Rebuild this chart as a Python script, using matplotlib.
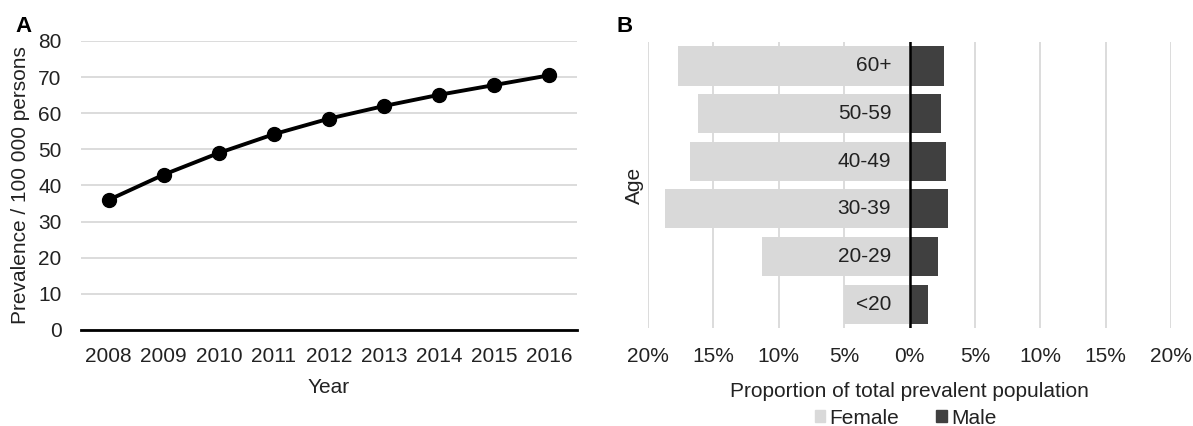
import matplotlib.pyplot as plt
from matplotlib.patches import Patch

plt.rcParams['font.family'] = ['Liberation Sans', 'DejaVu Sans']

# panel A data
years = [2008, 2009, 2010, 2011, 2012, 2013, 2014, 2015, 2016]
prevalence = [36.0, 43.0, 49.0, 54.2, 58.5, 62.0, 65.1, 67.8, 70.5]

# panel B data (percent of total prevalent population)
ages = ['<20', '20-29', '30-39', '40-49', '50-59', '60+']
female = [5.0, 11.3, 18.7, 16.8, 16.2, 17.7]
male = [1.4, 2.2, 2.95, 2.8, 2.4, 2.6]

grid_col = '#d9d9d9'
fem_col = '#d9d9d9'
male_col = '#404040'
txt_col = '#222222'
fs = 15

fig = plt.figure(figsize=(11.93, 4.26), dpi=100)

# ---- A ----
axA = fig.add_axes([0.068, 0.2254, 0.4155, 0.6784])
axA.plot(years, prevalence, color='black', lw=2.8, marker='o', ms=10, zorder=3)
axA.set_xlim(2007.5, 2016.5)
axA.set_ylim(0, 80)
axA.set_yticks(range(0, 81, 10))
axA.set_xticks(years)
axA.grid(axis='y', color=grid_col, lw=1.3)
axA.set_axisbelow(True)
for s in ['top', 'right', 'left']:
    axA.spines[s].set_visible(False)
axA.spines['bottom'].set_linewidth(2)
axA.tick_params(length=0, labelsize=fs, colors=txt_col, pad=12)
axA.tick_params(axis='y', pad=14)
axA.set_xlabel('Year', fontsize=fs, color=txt_col, labelpad=9)
axA.set_ylabel('Prevalence / 100 000 persons', fontsize=fs, color=txt_col, labelpad=6)
fig.text(0.0126, 0.925, 'A', fontsize=16, fontweight='bold')

# ---- B ----
axB = fig.add_axes([0.5432, 0.23, 0.4384, 0.671])
pos = range(len(ages))
axB.barh(pos, [-v for v in female], height=0.82, color=fem_col, zorder=2)
axB.barh(pos, male, height=0.82, color=male_col, zorder=2)
axB.axvline(0, color='black', lw=1.8, zorder=3)
axB.set_xlim(-20, 20)
axB.set_ylim(-0.5, len(ages) - 0.5)
axB.set_xticks(range(-20, 21, 5))
axB.set_xticklabels([f'{abs(t)}%' for t in range(-20, 21, 5)])
axB.set_yticks([])
axB.grid(axis='x', color=grid_col, lw=1.3)
axB.set_axisbelow(True)
for s in axB.spines.values():
    s.set_visible(False)
axB.tick_params(length=0, labelsize=fs, colors=txt_col, pad=14)
for i, a in enumerate(ages):
    axB.text(-1.4, i, a, ha='right', va='center', fontsize=fs, color=txt_col, zorder=4)
axB.set_xlabel('Proportion of total prevalent population', fontsize=fs, color=txt_col, labelpad=11)
axB.set_ylabel('Age', fontsize=fs, color=txt_col, labelpad=3)
fig.text(0.517, 0.925, 'B', fontsize=16, fontweight='bold')

handles = [Patch(color=fem_col, label='Female'), Patch(color=male_col, label='Male')]
fig.legend(handles=handles, loc='center', bbox_to_anchor=(0.759, 0.018), ncol=2,
           frameon=False, fontsize=fs, handlelength=0.5, handleheight=0.5,
           handletextpad=0.2, columnspacing=1.8, labelcolor=txt_col,
           borderpad=0, borderaxespad=0)

fig.savefig('out.png', dpi=100)
